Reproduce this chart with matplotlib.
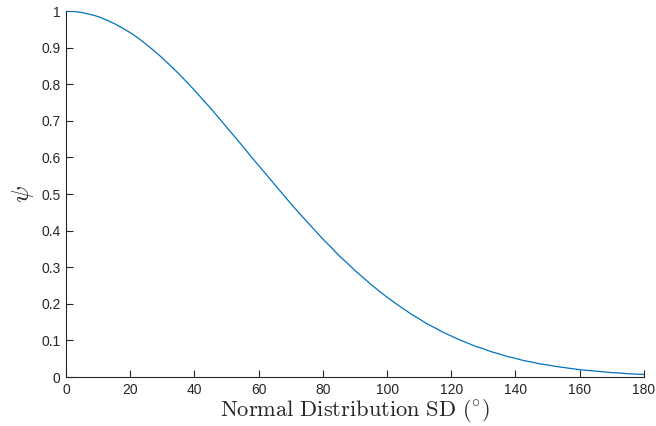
import numpy as np
import matplotlib
matplotlib.use('Agg')
import matplotlib.pyplot as plt

# SD in degrees and psi
sd_deg = [0, 2.5, 5, 7.5, 10, 12.5, 15, 17.5, 20, 22.5, 25, 27.5, 30, 32.5, 35, 37.5,
          40, 42.5, 45, 47.5, 50, 52.5, 55, 57.5, 60, 62.5, 65, 67.5, 70, 72.5, 75,
          77.5, 80, 82.5, 85, 87.5, 90, 92.5, 95, 97.5, 100, 102.5, 105, 107.5, 110,
          112.5, 115, 117.5, 120, 122.5, 125, 127.5, 130, 132.5, 135, 137.5, 140,
          142.5, 145, 147.5, 150, 152.5, 155, 157.5, 160, 162.5, 165, 167.5, 170,
          172.5, 175, 177.5, 180]
psi = [1.000, 0.999, 0.996, 0.991, 0.985, 0.976, 0.966, 0.954, 0.941, 0.926, 0.909,
       0.891, 0.872, 0.851, 0.830, 0.807, 0.784, 0.759, 0.735, 0.709, 0.683, 0.657,
       0.631, 0.604, 0.578, 0.552, 0.526, 0.500, 0.474, 0.449, 0.425, 0.401, 0.377,
       0.355, 0.332, 0.312, 0.291, 0.272, 0.253, 0.235, 0.218, 0.202, 0.187, 0.172,
       0.159, 0.145, 0.134, 0.122, 0.112, 0.102, 0.093, 0.084, 0.077, 0.069, 0.063,
       0.056, 0.051, 0.045, 0.041, 0.036, 0.033, 0.029, 0.026, 0.023, 0.020, 0.018,
       0.016, 0.014, 0.012, 0.011, 0.009, 0.008, 0.007]
xticks = [0, 20, 40, 60, 80, 100, 120, 140, 160, 180]
yticks = [0, 0.1, 0.2, 0.3, 0.4, 0.5, 0.6, 0.7, 0.8, 0.9, 1]
ytick_labels = ['0', '0.1', '0.2', '0.3', '0.4', '0.5', '0.6', '0.7', '0.8', '0.9', '1']

plt.rcParams['mathtext.fontset'] = 'cm'
plt.rcParams['font.family'] = ['Liberation Sans', 'DejaVu Sans']

fig = plt.figure(figsize=(6.56, 4.26), dpi=100, facecolor='w')
ax = fig.add_axes([0.1006, 0.115, 0.881, 0.859])

ax.plot(sd_deg, psi, color='#0072BD', linewidth=0.9)

ax.set_xlim(0, 180)
ax.set_ylim(0, 1)
ax.set_xticks(xticks)
ax.set_yticks(yticks)
ax.set_yticklabels(ytick_labels)

for s in ['top', 'right']:
    ax.spines[s].set_visible(False)
for s in ['left', 'bottom']:
    ax.spines[s].set_color('#262626')
    ax.spines[s].set_linewidth(0.8)
ax.tick_params(direction='in', length=5, width=0.8, colors='#262626', labelsize=10, pad=4)

ax.set_xlabel(r'$\mathrm{Normal\ Distribution\ SD}\ (^{\circ})$', fontsize=16.2, color='#262626', labelpad=0)
ax.set_ylabel(r'$\psi$', fontsize=18, color='#262626', labelpad=4)

fig.savefig('out.png', dpi=100)
